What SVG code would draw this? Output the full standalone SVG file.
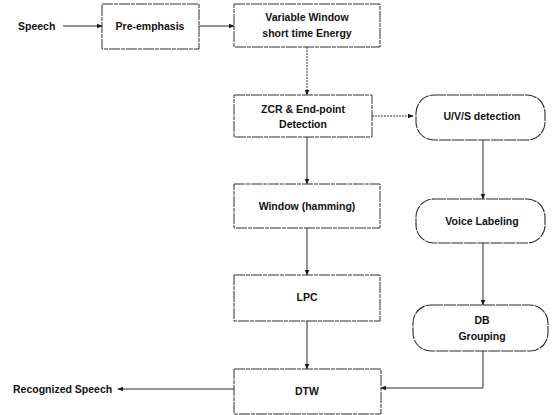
<svg xmlns="http://www.w3.org/2000/svg" width="553" height="415" viewBox="0 0 553 415">
  <defs>
    <marker id="arrow" viewBox="0 0 10 10" refX="9" refY="5" markerWidth="6" markerHeight="6" orient="auto" markerUnits="userSpaceOnUse">
      <path d="M0,1 L10,5 L0,9 z" fill="#1a1a1a"/>
    </marker>
    <style>
      .box { fill: #ffffff; stroke: #2e2e2e; stroke-width: 1; stroke-dasharray: 11 1 4 1; }
      .term { fill: #ffffff; stroke: #2a2a2a; stroke-width: 1.1; stroke-dasharray: 12 1; }
      .lbl { font-family: "Liberation Sans", Arial, sans-serif; font-weight: bold; font-size: 10.5px; fill: #111111; text-anchor: middle; }
      .free { font-family: "Liberation Sans", Arial, sans-serif; font-weight: bold; font-size: 10.5px; fill: #111111; }
      .link { fill: none; stroke: #2a2a2a; stroke-width: 1; marker-end: url(#arrow); }
      .dash { stroke-dasharray: 2 1; }
    </style>
  </defs>
  <rect width="553" height="415" fill="#ffffff"/>

  <!-- free labels -->
  <text class="free" x="18" y="30">Speech</text>
  <text class="free" x="13" y="393">Recognized Speech</text>

  <!-- connectors -->
  <g id="connectors">
    <line class="link" x1="63" y1="26" x2="102" y2="26"/>
    <line class="link" x1="199" y1="26" x2="234" y2="26"/>
    <line class="link dash" x1="307" y1="47" x2="307" y2="95"/>
    <line class="link dash" x1="372" y1="116" x2="413" y2="116"/>
    <line class="link" x1="307" y1="137" x2="307" y2="184"/>
    <line class="link" x1="483" y1="140" x2="483" y2="199"/>
    <line class="link" x1="307" y1="228" x2="307" y2="275"/>
    <line class="link" x1="483" y1="243" x2="483" y2="305"/>
    <line class="link" x1="307" y1="321" x2="307" y2="369"/>
    <polyline class="link" points="483,351 483,388 381,388"/>
    <line class="link" x1="234" y1="389" x2="118" y2="389"/>
  </g>

  <!-- process blocks -->
  <g id="pre-emphasis">
    <rect class="box" x="102" y="4" width="97" height="45"/>
    <text class="lbl" x="150" y="30">Pre-emphasis</text>
  </g>
  <g id="variable-window">
    <rect class="box" x="234" y="4" width="146" height="43"/>
    <text class="lbl" x="307" y="21">Variable Window</text>
    <text class="lbl" x="307" y="37">short time Energy</text>
  </g>
  <g id="zcr-endpoint">
    <rect class="box" x="234" y="95" width="138" height="42"/>
    <text class="lbl" x="303" y="113">ZCR &amp; End-point</text>
    <text class="lbl" x="303" y="128">Detection</text>
  </g>
  <g id="window-hamming">
    <rect class="box" x="234" y="184" width="146" height="44"/>
    <text class="lbl" x="307" y="210">Window (hamming)</text>
  </g>
  <g id="lpc">
    <rect class="box" x="234" y="275" width="146" height="46"/>
    <text class="lbl" x="307" y="301">LPC</text>
  </g>
  <g id="dtw">
    <rect class="box" x="234" y="369" width="147" height="45"/>
    <text class="lbl" x="307" y="395">DTW</text>
  </g>

  <!-- rounded blocks -->
  <g id="uvs-detection">
    <rect class="term" x="416" y="95" width="129" height="45" rx="18" ry="18"/>
    <text class="lbl" x="482" y="120">U/V/S detection</text>
  </g>
  <g id="voice-labeling">
    <rect class="term" x="416" y="199" width="129" height="44" rx="18" ry="18"/>
    <text class="lbl" x="482" y="225">Voice Labeling</text>
  </g>
  <g id="db-grouping">
    <rect class="term" x="413" y="305" width="135" height="46" rx="18" ry="18"/>
    <text class="lbl" x="482" y="324">DB</text>
    <text class="lbl" x="482" y="340">Grouping</text>
  </g>
</svg>
